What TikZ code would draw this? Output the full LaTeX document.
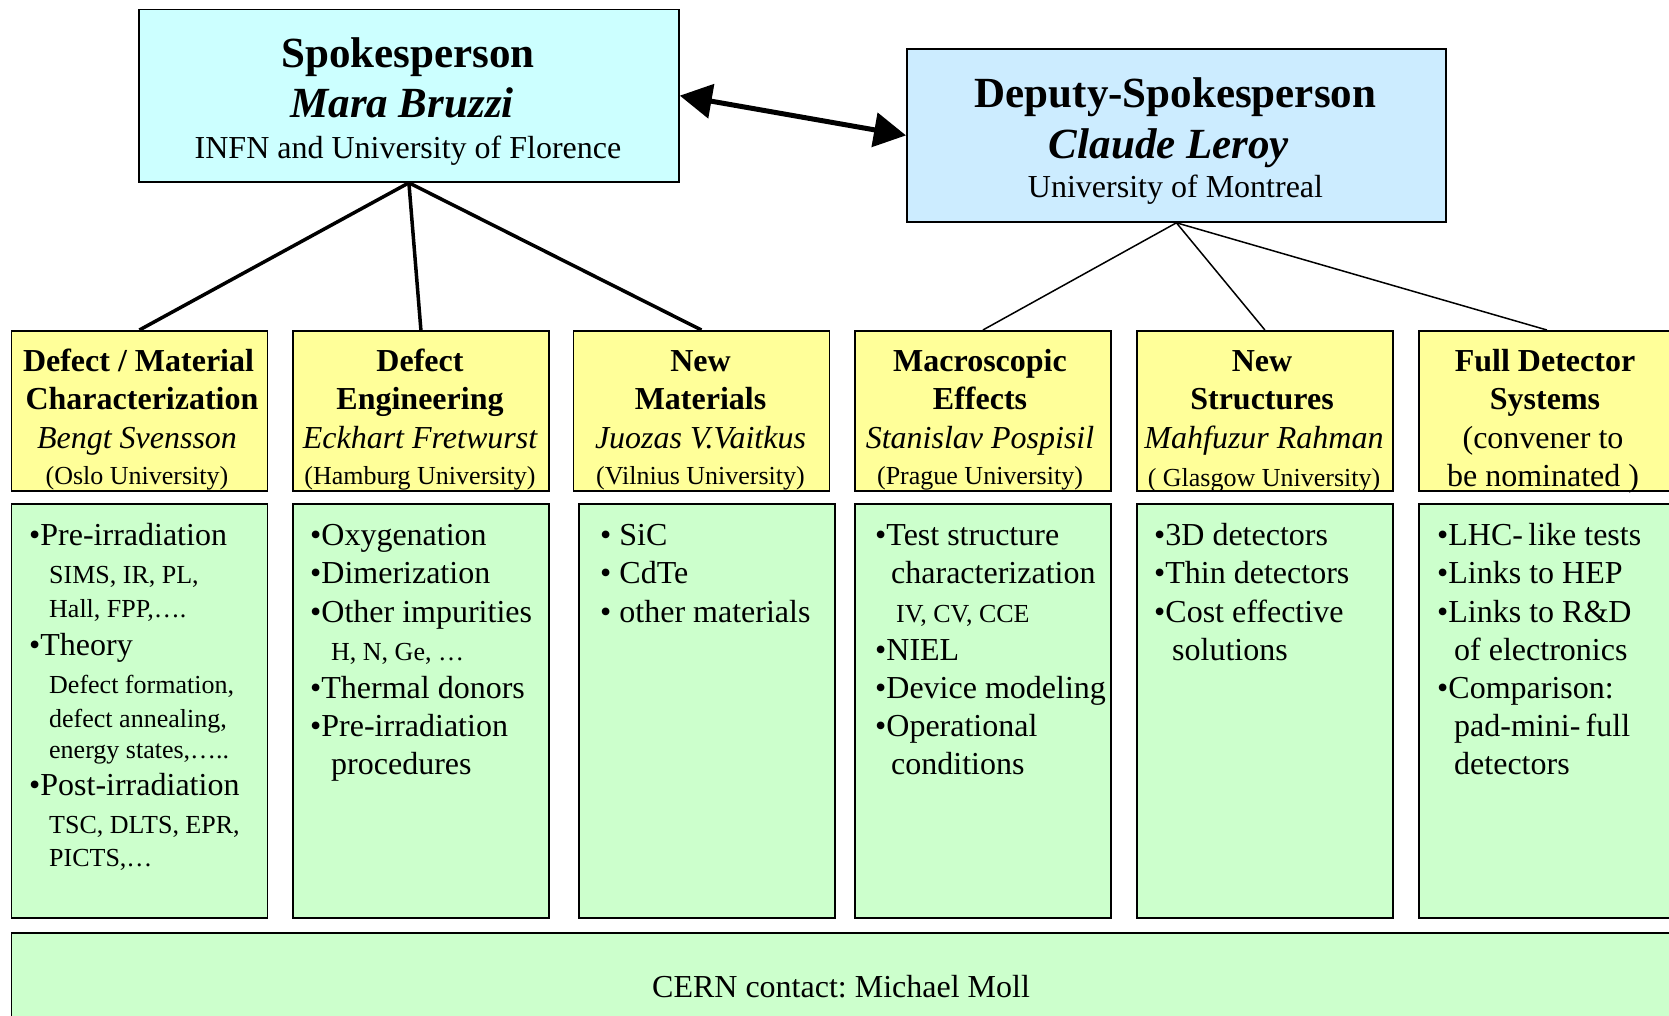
\documentclass[tikz,border=0pt]{standalone}
\usepackage{fontspec}
\setmainfont{Liberation Serif}
\usetikzlibrary{arrows.meta}
\frenchspacing
\definecolor{spkfill}{HTML}{CCFFFF}
\definecolor{depfill}{HTML}{CCECFF}
\definecolor{yfill}{HTML}{FFFF99}
\definecolor{gfill}{HTML}{CCFFCC}
\tikzset{
  box/.style={draw=black, line width=1.8pt, inner sep=0pt, anchor=north west},
  ybox/.style={box, fill=yfill, minimum width=256pt, minimum height=160pt},
  gbox/.style={box, fill=gfill, minimum width=256pt, minimum height=414pt},
  tx/.style={inner sep=0pt, anchor=base},
  txl/.style={inner sep=0pt, anchor=base west},
  hbig/.style={font=\fontsize{43}{50}\selectfont\bfseries},
  ibig/.style={font=\fontsize{43}{50}\selectfont\bfseries\itshape},
  med/.style={font=\fontsize{32}{38}\selectfont},
  medb/.style={font=\fontsize{32}{38}\selectfont\bfseries},
  medi/.style={font=\fontsize{32}{38}\selectfont\itshape},
  sml/.style={font=\fontsize{26}{30}\selectfont},
  thickcon/.style={line width=3.5pt},
  thincon/.style={line width=1.5pt},
  bigarrow/.style={line width=5pt, {Triangle[length=32pt,width=34pt]}-{Triangle[length=32pt,width=34pt]}},
}
\begin{document}
\begin{tikzpicture}[x=1pt,y=-1pt]
\useasboundingbox (0,0) rectangle (1669,1015);
\clip (0,0) rectangle (1669,1015);

% top boxes
\node[box, fill=spkfill, minimum width=540pt, minimum height=172.5pt] (spk) at (138,8.5) {};
\node[box, fill=depfill, minimum width=539pt, minimum height=173pt] (dep) at (906,48) {};

% yellow boxes
\node[ybox] (y1) at (10.5,330) {};
\node[ybox] (y2) at (292,330) {};
\node[ybox] (y3) at (572.5,330) {};
\node[ybox] (y4) at (854,330) {};
\node[ybox] (y5) at (1136,330) {};
\node[ybox] (y6) at (1418,330) {};

% green boxes
\node[gbox] (g1) at (10.5,503) {};
\node[gbox] (g2) at (292,503) {};
\node[gbox] (g3) at (578,503) {};
\node[gbox] (g4) at (854,503) {};
\node[gbox] (g5) at (1136,503) {};
\node[gbox] (g6) at (1418,503) {};

% bottom box
\node[box, fill=gfill, minimum width=1700pt, minimum height=120pt] (cern) at (10.5,932) {};

% connectors
\draw[bigarrow] (spk.east) -- (dep.west);
\draw[thickcon] (spk.south) -- (y1.north);
\draw[thickcon] (spk.south) -- (y2.north);
\draw[thickcon] (spk.south) -- (y3.north);
\draw[thincon] (dep.south) -- (y4.north);
\draw[thincon] (dep.south) -- (y5.north);
\draw[thincon] (dep.south) -- (y6.north);

% top texts
\node[tx, hbig] (s1) at (408,67) {Spokesperson};
\node[tx, ibig] (s2) at (402,117) {Mara Bruzzi};
\node[tx, med]  (s3) at (408,158) {INFN and University of Florence};
\node[tx, hbig] (d1) at (1175.5,107) {Deputy-Spokesperson};
\node[tx, ibig] (d2) at (1169,158) {Claude Leroy};
\node[tx, med]  (d3) at (1175.5,197) {University of Montreal};

% yellow texts
\node[tx, medb] (a1) at (138.5,371) {Defect / Material};
\node[tx, medb] (a2) at (142,409) {Characterization};
\node[tx, medi] (a3) at (137,448) {Bengt Svensson};
\node[tx, sml]  (a4) at (137,484) {(Oslo University)};

\node[tx, medb] (b1) at (420,371) {Defect};
\node[tx, medb] (b2) at (420,409) {Engineering};
\node[tx, medi] (b3) at (420,448) {Eckhart Fretwurst};
\node[tx, sml]  (b4) at (420,484) {(Hamburg University)};

\node[tx, medb] (c1) at (700.5,371) {New};
\node[tx, medb] (c2) at (700.5,409) {Materials};
\node[tx, medi] (c3) at (700.5,448) {Juozas V.Vaitkus};
\node[tx, sml]  (c4) at (700.5,484) {(Vilnius University)};

\node[tx, medb] (e1) at (980,371) {Macroscopic};
\node[tx, medb] (e2) at (980,409) {Effects};
\node[tx, medi] (e3) at (980,448) {Stanislav Pospisil};
\node[tx, sml]  (e4) at (980,484) {(Prague University)};

\node[tx, medb] (f1) at (1262,371) {New};
\node[tx, medb] (f2) at (1262,409) {Structures};
\node[tx, medi] (f3) at (1264,448) {Mahfuzur Rahman};
\node[tx, sml]  (f4) at (1264,486) {( Glasgow University)};

\node[tx, medb] (h1) at (1545,371) {Full Detector};
\node[tx, medb] (h2) at (1545,409) {Systems};
\node[tx, med]  (h3) at (1543,448) {(convener to};
\node[tx, med]  (h4) at (1543,486) {be nominated )};

% green box 1
\node[txl, med] (p1) at (29,545) {•Pre-irradiation};
\node[txl, sml] (p2) at (49,583) {SIMS, IR, PL,};
\node[txl, sml] (p3) at (49,617) {Hall, FPP,….};
\node[txl, med] (p4) at (29,655) {•Theory};
\node[txl, sml] (p5) at (49,693) {Defect formation,};
\node[txl, sml] (p6) at (49,727) {defect annealing,};
\node[txl, sml] (p7) at (49,758) {energy states,…..};
\node[txl, med] (p8) at (29,795) {•Post-irradiation};
\node[txl, sml] (p9) at (49,833) {TSC, DLTS, EPR,};
\node[txl, sml] (p10) at (49,866) {PICTS,…};

% green box 2
\node[txl, med] (q1) at (310,545) {•Oxygenation};
\node[txl, med] (q2) at (310,583) {•Dimerization};
\node[txl, med] (q3) at (310,622) {•Other impurities};
\node[txl, sml] (q4) at (331,660) {H, N, Ge, …};
\node[txl, med] (q5) at (310,698) {•Thermal donors};
\node[txl, med] (q6) at (310,736) {•Pre-irradiation};
\node[txl, med] (q7) at (331,774) {procedures};

% green box 3
\node[txl, med] (r1) at (600,545) {• SiC};
\node[txl, med] (r2) at (600,583) {• CdTe};
\node[txl, med] (r3) at (600,622) {• other materials};

% green box 4
\node[txl, med] (u1) at (875,545) {•Test structure};
\node[txl, med] (u2) at (891,583) {characterization};
\node[txl, sml] (u3) at (896,622) {IV, CV, CCE};
\node[txl, med] (u4) at (875,660) {•NIEL};
\node[txl, med] (u5) at (875,698) {•Device modeling};
\node[txl, med] (u6) at (875,736) {•Operational};
\node[txl, med] (u7) at (891,774) {conditions};

% green box 5
\node[txl, med] (v1) at (1154,545) {•3D detectors};
\node[txl, med] (v2) at (1154,583) {•Thin detectors};
\node[txl, med] (v3) at (1154,622) {•Cost effective};
\node[txl, med] (v4) at (1172,660) {solutions};

% green box 6
\node[txl, med] (w1) at (1437,545) {•LHC-\,like tests};
\node[txl, med] (w2) at (1437,583) {•Links to HEP};
\node[txl, med] (w3) at (1437,622) {•Links to R\&D};
\node[txl, med] (w4) at (1454,660) {of electronics};
\node[txl, med] (w5) at (1437,698) {•Comparison:};
\node[txl, med] (w6) at (1454,736) {pad-mini-\,full};
\node[txl, med] (w7) at (1454,774) {detectors};

% bottom text
\node[tx, med] (ct) at (841,997) {CERN contact: Michael Moll};
\end{tikzpicture}
\end{document}
